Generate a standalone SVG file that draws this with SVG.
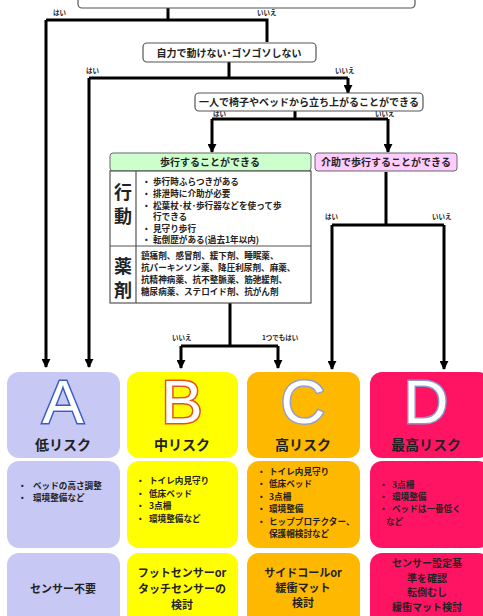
<svg xmlns="http://www.w3.org/2000/svg" width="483" height="616" viewBox="0 0 483 616">
<style>
.q{fill:#fff;stroke:#555;stroke-width:1.2}
.t{font-family:"Noto Sans CJK JP","Liberation Sans",sans-serif;fill:#222}
.qt{font-size:10px;font-weight:bold;text-anchor:middle}
.yn{font-size:6.5px;font-weight:bold}
.ln{fill:none;stroke:#000;stroke-width:3}
.b{font-size:8.6px;font-weight:bold}
.big{font-size:18px;font-weight:bold;text-anchor:middle}
.risk{font-size:14px;font-weight:bold;text-anchor:middle}
.let{font-family:"Liberation Sans",Arial,sans-serif;font-size:62px;text-anchor:middle;fill:#fff;stroke-width:3;paint-order:stroke}
.sub{font-size:11px;font-weight:bold;text-anchor:middle}
</style>
<defs>
<marker id="ar" viewBox="0 0 10 10" refX="9" refY="5" markerWidth="3" markerHeight="3" orient="auto" markerUnits="strokeWidth"><path d="M0,0L10,5L0,10z" fill="#000"/></marker>
</defs>
<rect width="483" height="616" fill="#fff"/>

<g id="connectors">
<path class="ln" d="M168,8V20M46,20H267V42"/>
<path class="ln" d="M46,20V367" marker-end="url(#ar)" stroke-width="2"/>
<path class="ln" d="M229,62V78M89,78H348"/>
<path class="ln" d="M348,78V93" marker-end="url(#ar)" stroke-width="2"/>
<path class="ln" d="M89,78V367" marker-end="url(#ar)" stroke-width="2"/>
<path class="ln" d="M295,111V119M212,119H388"/>
<path class="ln" d="M212,119V152" marker-end="url(#ar)" stroke-width="2"/>
<path class="ln" d="M388,119V152" marker-end="url(#ar)" stroke-width="2"/>
<path class="ln" d="M386,172V225M332,225H444"/>
<path class="ln" d="M332,225V369" marker-end="url(#ar)" stroke-width="2"/>
<path class="ln" d="M444,225V369" marker-end="url(#ar)" stroke-width="2"/>
<path class="ln" d="M230,303V346M181,346H278"/>
<path class="ln" d="M181,346V368" marker-end="url(#ar)" stroke-width="2"/>
<path class="ln" d="M278,346V368" marker-end="url(#ar)" stroke-width="2"/>
<g class="t yn">
<text x="53" y="15">はい</text>
<text x="257" y="15">いいえ</text>
<text x="86" y="73">はい</text>
<text x="335" y="73">いいえ</text>
<text x="213" y="116">はい</text>
<text x="375" y="116">いいえ</text>
<text x="325" y="219">はい</text>
<text x="432" y="219">いいえ</text>
<text x="172" y="340">いいえ</text>
<text x="262" y="340">1つでもはい</text>
</g>
</g>

<g id="q0"><rect class="q" x="78" y="-12" width="337" height="20" rx="4"/></g>
<g id="q1"><rect class="q" x="143" y="43" width="173" height="19" rx="4"/><text class="t qt" x="229" y="57">自力で動けない･ゴソゴソしない</text></g>
<g id="q2"><rect class="q" x="195" y="93" width="228" height="18" rx="4"/><text class="t qt" x="309" y="106">一人で椅子やベッドから立ち上がることができる</text></g>

<g id="walk">
<rect x="110" y="153" width="201" height="18" rx="3" fill="#ccffcc" stroke="#666" stroke-width="1"/>
<text class="t qt" x="210" y="166">歩行することができる</text>
<rect x="110" y="171" width="201" height="132" fill="#fff" stroke="#555" stroke-width="1.2"/>
<path d="M110,246H311M136,171V303" stroke="#555" stroke-width="1.2" fill="none"/>
<text class="t big" x="123" y="199">行</text>
<text class="t big" x="123" y="223">動</text>
<text class="t big" x="123" y="273">薬</text>
<text class="t big" x="123" y="297">剤</text>
<g class="t b">
<text x="142" y="185">・</text><text x="153" y="185">歩行時ふらつきがある</text>
<text x="142" y="197">・</text><text x="153" y="197">排泄時に介助が必要</text>
<text x="142" y="209">・</text><text x="153" y="209">松葉杖･杖･歩行器などを使って歩</text>
<text x="153" y="220">行できる</text>
<text x="142" y="232">・</text><text x="153" y="232">見守り歩行</text>
<text x="142" y="243">・</text><text x="153" y="243">転倒歴がある(過去1年以内)</text>
<text x="141" y="259">鎮痛剤、感冒剤、緩下剤、睡眠薬、</text>
<text x="141" y="271">抗パーキンソン薬、降圧利尿剤、麻薬、</text>
<text x="141" y="283">抗精神病薬、抗不整脈薬、筋弛緩剤、</text>
<text x="141" y="295">糖尿病薬、ステロイド剤、抗がん剤</text>
</g>
</g>

<g id="assist">
<rect x="315" y="153" width="142" height="18" rx="3" fill="#ffccff" stroke="#666" stroke-width="1"/>
<text class="t qt" x="386" y="166">介助で歩行することができる</text>
</g>

<g id="A">
<rect x="7" y="372" width="113" height="86" rx="12" fill="#c8c8f5"/>
<rect x="7" y="461" width="113" height="87" rx="12" fill="#c8c8f5"/>
<rect x="7" y="553" width="113" height="80" rx="12" fill="#c8c8f5"/>
<text class="let" x="63" y="423" stroke="#3a5cc8">A</text>
<text class="t risk" x="63" y="450">低リスク</text>
<g class="t b"><text x="18" y="489">・</text><text x="33" y="489">ベッドの高さ調整</text><text x="18" y="501">・</text><text x="33" y="501">環境整備など</text></g>
<text class="t sub" x="63" y="593">センサー不要</text>
</g>

<g id="B">
<rect x="127" y="372" width="111" height="86" rx="12" fill="#ffff00"/>
<rect x="127" y="461" width="111" height="87" rx="12" fill="#ffff00"/>
<rect x="127" y="553" width="111" height="80" rx="12" fill="#ffff00"/>
<text class="let" x="182" y="423" stroke="#e8501a">B</text>
<text class="t risk" x="182" y="450">中リスク</text>
<g class="t b"><text x="136" y="484">・</text><text x="149" y="484">トイレ内見守り</text><text x="136" y="497">・</text><text x="149" y="497">低床ベッド</text><text x="136" y="509">・</text><text x="149" y="509">3点柵</text><text x="136" y="522">・</text><text x="149" y="522">環境整備など</text></g>
<text class="t sub"><tspan x="182" y="577">フットセンサーor</tspan><tspan x="182" y="593">タッチセンサーの</tspan><tspan x="182" y="609">検討</tspan></text>
</g>

<g id="C">
<rect x="247" y="372" width="113" height="86" rx="12" fill="#ffb800"/>
<rect x="247" y="461" width="113" height="87" rx="12" fill="#ffb800"/>
<rect x="247" y="553" width="113" height="80" rx="12" fill="#ffb800"/>
<text class="let" x="303" y="423" stroke="#8fa0d0">C</text>
<text class="t risk" x="303" y="450">高リスク</text>
<g class="t b"><text x="257" y="475">・</text><text x="269" y="475">トイレ内見守り</text><text x="257" y="487">・</text><text x="269" y="487">低床ベッド</text><text x="257" y="500">・</text><text x="269" y="500">3点柵</text><text x="257" y="512">・</text><text x="269" y="512">環境整備</text><text x="257" y="525">・</text><text x="269" y="525">ヒッププロテクター、</text><text x="269" y="537">保護帽検討など</text></g>
<text class="t sub"><tspan x="303" y="577">サイドコールor</tspan><tspan x="303" y="592">緩衝マット</tspan><tspan x="303" y="607">検討</tspan></text>
</g>

<g id="D">
<rect x="370" y="372" width="120" height="86" rx="12" fill="#ff1464"/>
<rect x="370" y="461" width="120" height="87" rx="12" fill="#ff1464"/>
<rect x="370" y="553" width="120" height="80" rx="12" fill="#ff1464"/>
<text class="let" x="426" y="423" stroke="#8a98c8">D</text>
<text class="t risk" x="426" y="450">最高リスク</text>
<g class="t b"><text x="379" y="488">・</text><text x="392" y="488">3点柵</text><text x="379" y="500">・</text><text x="392" y="500">環境整備</text><text x="379" y="512">・</text><text x="392" y="512">ベッドは一番低く</text><text x="386" y="525">など</text></g>
<text class="t sub" style="font-size:10px"><tspan x="427" y="567">センサー設定基</tspan><tspan x="427" y="581.5">準を確認</tspan><tspan x="427" y="596">転倒むし</tspan><tspan x="427" y="610.5">緩衝マット検討</tspan></text>
</g>
</svg>
